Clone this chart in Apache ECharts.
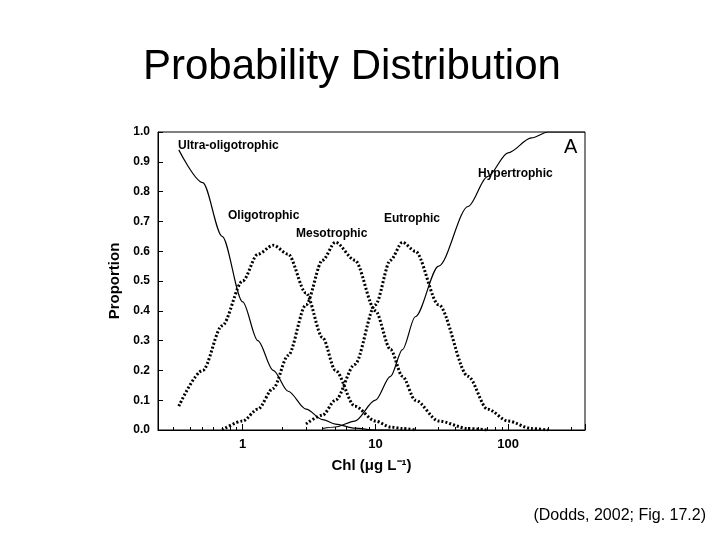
<!DOCTYPE html>
<html><head><meta charset="utf-8">
<script src="https://cdn.jsdelivr.net/npm/echarts@6/dist/echarts.min.js"></script>
<style>body{margin:0;background:#fff}#c{width:720px;height:540px}</style></head>
<body><div id="c"></div>
<script>
const chl = [0.33,0.5,0.7,1,1.3,1.7,2.2,3,4,5,7,10,13,16,20,30,50,70,100,150,200,300,380];
const ultra = [0.94,0.83,0.65,0.43,0.3,0.2,0.13,0.07,0.035,0.02,0.006,0,0,null,null,null,null,null,null,null,null,null,null];
const oligo = [0.08,0.2,0.35,0.5,0.59,0.62,0.59,0.46,0.31,0.2,0.08,0.03,0.01,0.005,0,null,null,null,null,null,null,null,null];
const meso  = [null,null,0,0.03,0.07,0.14,0.25,0.42,0.57,0.63,0.57,0.4,0.27,0.18,0.1,0.03,0.005,0,null,null,null,null,null];
const eutro = [null,null,null,null,null,null,null,0.02,0.05,0.1,0.22,0.42,0.57,0.63,0.6,0.42,0.18,0.07,0.03,0.005,0,null,null];
const hyper = [null,null,null,null,null,null,null,null,0.005,0.01,0.03,0.1,0.18,0.27,0.38,0.55,0.75,0.85,0.93,0.98,1,1,1];
const pairs = v => chl.map((x,i)=>[x,v[i]]).filter(p=>p[1]!==null);
const mk = (name,v,dotted)=>({name,type:'line',smooth:0.3,smoothMonotone:'x',showSymbol:false,data:pairs(v),
  lineStyle:{color:'#000',width:dotted?3:1.2,type:dotted?[2,2]:'solid'}});
const ax = {color:'#000'};
const F = 'Liberation Sans';
const chart = echarts.init(document.getElementById('c'));
chart.setOption({
  animation:false,
  grid:{left:158,right:135,top:132,bottom:110},
  xAxis:{type:'log',logBase:10,min:0.23,max:380,name:'Chl (μg L⁻¹)',nameLocation:'middle',nameGap:28,
    nameTextStyle:{fontSize:15,fontFamily:F,fontWeight:'bold',color:'#000'},
    axisLine:{lineStyle:ax},axisTick:{inside:true,lineStyle:ax,length:6},minorTick:{show:true,splitNumber:9,length:3,lineStyle:ax},
    axisLabel:{color:'#000',fontSize:13,fontFamily:F,fontWeight:'bold',showMinLabel:false,showMaxLabel:false},splitLine:{show:false}},
  yAxis:{type:'value',min:0,max:1,interval:0.1,name:'Proportion',nameLocation:'middle',nameGap:34,
    nameTextStyle:{fontSize:15,fontFamily:F,fontWeight:'bold',color:'#000'},
    axisLine:{show:true,lineStyle:ax},axisTick:{inside:true,lineStyle:ax},
    axisLabel:{color:'#000',fontSize:12,fontFamily:F,fontWeight:'bold',formatter:v=>v.toFixed(1)},splitLine:{show:false}},
  series:[mk('Ultra',ultra,false),mk('Oligo',oligo,true),mk('Meso',meso,true),mk('Eutro',eutro,true),mk('Hyper',hyper,false)],
  graphic:[
    {type:'rect',shape:{x:158,y:132,width:427,height:298},style:{fill:'none',stroke:'#000',lineWidth:1}},
    {type:'text',x:143,y:46,style:{text:'Probability Distribution',fontSize:42,fontFamily:F,fill:'#000'}},
    {type:'text',right:14,top:508,style:{text:'(Dodds, 2002; Fig. 17.2)',fontSize:16,fontFamily:F,fill:'#000'}},
    {type:'text',x:564,y:137,style:{text:'A',fontSize:20,fontFamily:F,fill:'#000'}},
    {type:'text',x:178,y:140,style:{text:'Ultra-oligotrophic',fontSize:12,fontFamily:F,fontWeight:'bold',fill:'#000'}},
    {type:'text',x:228,y:210,style:{text:'Oligotrophic',fontSize:12,fontFamily:F,fontWeight:'bold',fill:'#000'}},
    {type:'text',x:296,y:228,style:{text:'Mesotrophic',fontSize:12,fontFamily:F,fontWeight:'bold',fill:'#000'}},
    {type:'text',x:384,y:213,style:{text:'Eutrophic',fontSize:12,fontFamily:F,fontWeight:'bold',fill:'#000'}},
    {type:'text',x:478,y:168,style:{text:'Hypertrophic',fontSize:12,fontFamily:F,fontWeight:'bold',fill:'#000'}}
  ]
});
</script></body></html>
